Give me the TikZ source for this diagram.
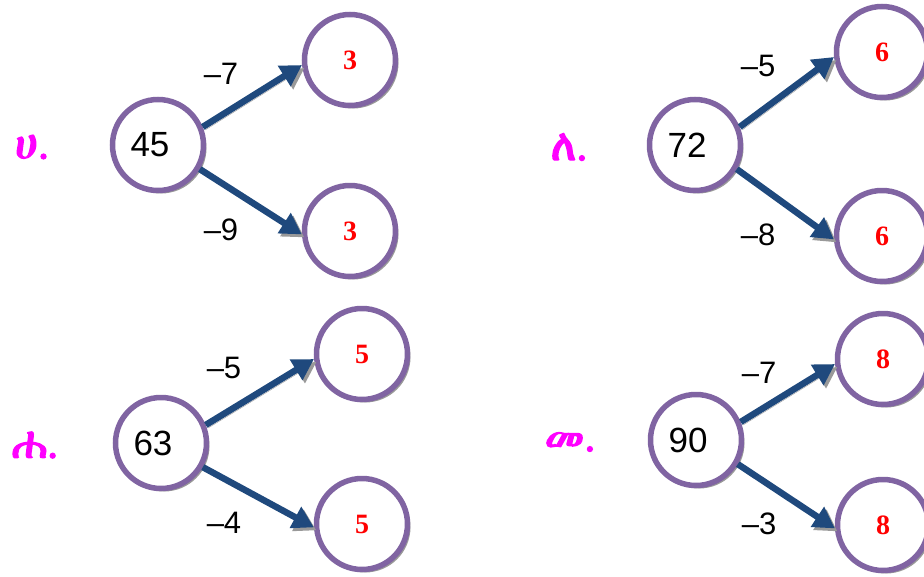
\documentclass[tikz,border=0pt]{standalone}
\usepackage{fontspec}
\setmainfont{Liberation Sans}
\newfontfamily\kidfont{Liberation Serif}
\IfFontExistsTF{FreeSerif}
  {\newfontfamily\ethfont[FakeBold=3]{FreeSerif}}
  {\IfFontExistsTF{Abyssinica SIL}
    {\newfontfamily\ethfont[FakeBold=3]{Abyssinica SIL}}
    {\newfontfamily\ethfont{DejaVu Sans}}}
\usetikzlibrary{arrows.meta,shadows}

\definecolor{ringpurple}{HTML}{8064A2}
\definecolor{arrowblue}{HTML}{1F497D}
\definecolor{tagpink}{HTML}{FF00FF}

\tikzset{
  ringnode/.style={circle, draw=ringpurple, line width=5.5pt, fill=white,
    minimum size=91pt, inner sep=0pt,
    drop shadow={shadow xshift=3pt, shadow yshift=-3pt, fill=black!40, opacity=1}},
  rootnode/.style={ringnode, font=\fontsize{35}{35}\selectfont,
    execute at begin node={\hspace*{-16pt}}},
  kidnode/.style={ringnode, text=red, font=\kidfont\bfseries\fontsize{28}{28}\selectfont},
  link/.style={draw=arrowblue, line width=6.5pt, -{Triangle[length=21pt,width=23pt]},
    preaction={draw=black!40, transform canvas={shift={(2.5pt,-3pt)}}}},
  difflabel/.style={font=\fontsize{31}{31}\selectfont},
  panellabel/.style={text=tagpink, font=\ethfont\fontsize{44}{44}\selectfont}
}

\begin{document}
\begin{tikzpicture}[x=1pt, y=-1pt]
  \useasboundingbox (0,0) rectangle (924,576);
  \foreach \rx/\ry/\tx/\tya/\tyb/\ttag/\rnum/\knum/\da/\db in {
      158/145/350/60/231/ሀ/45/3/7/9,
      695/145/882/52/236/ለ/72/6/5/8,
      161/443/362/354/524/ሐ/63/5/5/4,
      696/440/883/359/525/መ/90/8/7/3} {
    \node[rootnode] (r) at (\rx,\ry) {\rnum};
    \node[kidnode] (ka) at (\tx,\tya) {\knum};
    \node[kidnode] (kb) at (\tx,\tyb) {\knum};
    \draw[link] (r.22) -- (ka.186);
    \draw[link] (r.-30) -- (kb.184);
    \node[difflabel] (da) at (\rx+63,\tya+14) {\textendash\da};
    \node[difflabel] (db) at (\rx+63,\tyb-1) {\textendash\db};
    \node[panellabel] (t) at (\rx-126,\ry+2) {\ttag.};
  }
\end{tikzpicture}
\end{document}
